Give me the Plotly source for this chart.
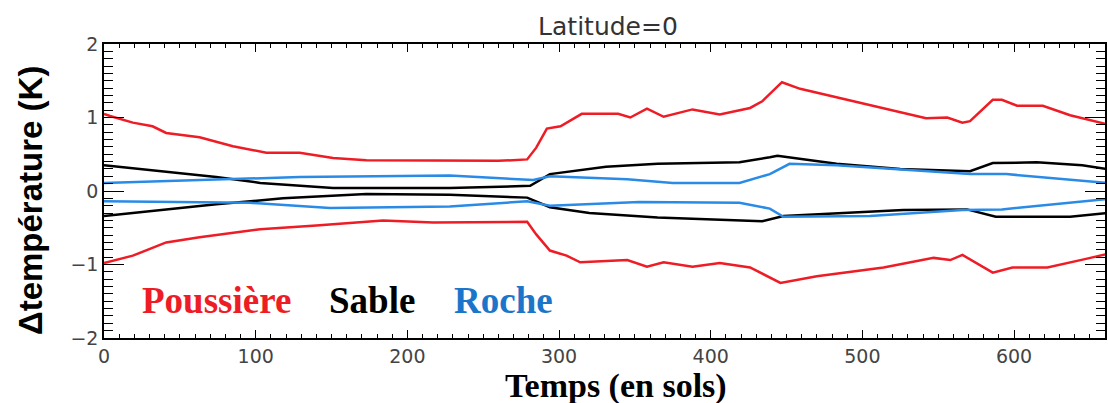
import plotly.graph_objects as go

# ---- data ----
poussiere_hi_x = [0, 4, 19, 32, 41, 63, 85, 107, 129, 151, 173, 217, 260, 279, 285, 292, 301, 315, 339, 347, 358, 369, 388, 406, 426, 434, 447, 459, 490, 514, 542, 556, 566, 571, 586, 592, 602, 619, 637, 661]
poussiere_hi_y = [1.05, 1.02, 0.93, 0.88, 0.79, 0.73, 0.61, 0.52, 0.52, 0.45, 0.42, 0.42, 0.41, 0.43, 0.59, 0.85, 0.88, 1.05, 1.05, 1.0, 1.12, 1.01, 1.11, 1.04, 1.13, 1.22, 1.48, 1.39, 1.24, 1.13, 0.99, 1.0, 0.93, 0.95, 1.24, 1.24, 1.16, 1.16, 1.03, 0.91]

poussiere_lo_x = [0, 19, 41, 63, 103, 140, 184, 217, 279, 285, 294, 305, 314, 345, 358, 369, 388, 406, 426, 434, 446, 470, 514, 547, 558, 566, 586, 599, 622, 646, 661]
poussiere_lo_y = [-0.98, -0.88, -0.70, -0.63, -0.52, -0.47, -0.40, -0.43, -0.42, -0.59, -0.81, -0.88, -0.97, -0.94, -1.03, -0.97, -1.03, -0.98, -1.04, -1.12, -1.25, -1.16, -1.04, -0.91, -0.94, -0.87, -1.11, -1.04, -1.04, -0.93, -0.86]

sable_hi_x = [0, 74, 103, 151, 228, 281, 294, 331, 365, 419, 439, 444, 483, 525, 571, 586, 615, 645, 661]
sable_hi_y = [0.35, 0.19, 0.11, 0.04, 0.04, 0.07, 0.23, 0.33, 0.37, 0.39, 0.46, 0.48, 0.37, 0.30, 0.27, 0.38, 0.39, 0.35, 0.30]

sable_lo_x = [0, 74, 118, 173, 228, 279, 294, 320, 365, 434, 448, 527, 569, 588, 637, 661]
sable_lo_y = [-0.34, -0.18, -0.10, -0.04, -0.05, -0.09, -0.22, -0.30, -0.36, -0.41, -0.34, -0.26, -0.25, -0.35, -0.35, -0.30]

roche_hi_x = [0, 52, 129, 228, 283, 294, 345, 375, 419, 439, 452, 483, 571, 595, 661]
roche_hi_y = [0.11, 0.14, 0.19, 0.21, 0.15, 0.20, 0.16, 0.11, 0.11, 0.23, 0.37, 0.35, 0.23, 0.23, 0.11]

roche_lo_x = [0, 50, 96, 149, 228, 279, 294, 353, 419, 439, 448, 505, 566, 592, 661]
roche_lo_y = [-0.14, -0.15, -0.16, -0.23, -0.21, -0.14, -0.20, -0.15, -0.16, -0.24, -0.35, -0.34, -0.26, -0.25, -0.11]

series_names = ["Poussière", "Sable", "Roche"]
line_colors = ["#ee1c25", "#000000", "#2a8be6"]
label_colors = ["#ee1c25", "#000000", "#1b75c9"]

x_tickvals = [0, 100, 200, 300, 400, 500, 600]
y_tickvals = [-2, -1, 0, 1, 2]

fig = go.Figure()
curves = [
    (poussiere_hi_x, poussiere_hi_y, 0), (poussiere_lo_x, poussiere_lo_y, 0),
    (sable_hi_x, sable_hi_y, 1), (sable_lo_x, sable_lo_y, 1),
    (roche_hi_x, roche_hi_y, 2), (roche_lo_x, roche_lo_y, 2),
]
for xs, ys, k in curves:
    fig.add_trace(go.Scatter(x=xs, y=ys, mode="lines", name=series_names[k],
                             line=dict(color=line_colors[k], width=2.5),
                             showlegend=False))

# text legend
legend_x = [0.036, 0.223, 0.348]
for name, col, lx in zip(series_names, label_colors, legend_x):
    fig.add_annotation(text=f"<b>{name}</b>", x=lx, y=0.129, xref="paper", yref="paper",
                       xanchor="left", yanchor="middle", showarrow=False,
                       font=dict(family="Liberation Serif", size=37, color=col))

# axis titles as annotations
fig.add_annotation(text="<b>Temps (en sols)</b>", x=0.511, y=-0.162, xref="paper", yref="paper",
                   xanchor="center", yanchor="middle", showarrow=False,
                   font=dict(family="Liberation Serif", size=34, color="black"))
fig.add_annotation(text="<b>Δtempérature (K)</b>", x=-0.074, y=0.469, xref="paper", yref="paper",
                   xanchor="center", yanchor="middle", showarrow=False, textangle=-90,
                   font=dict(family="Liberation Sans", size=33, color="black"))

tickfont = dict(family="DejaVu Sans", size=19, color="#444444")
fig.update_layout(
    width=1108, height=403,
    margin=dict(l=104, r=3, t=44, b=65, autoexpand=False),
    paper_bgcolor="white", plot_bgcolor="white",
    title=dict(text="Latitude=0", x=0.5487, xanchor="center", y=0.935, yanchor="middle",
               font=dict(family="DejaVu Sans", size=25, color="#333333")),
    xaxis=dict(range=[0, 660], tickvals=x_tickvals, ticks="inside", ticklen=8, tickwidth=1.2,
               tickcolor="black", showline=True, linecolor="black", linewidth=1.5,
               mirror="allticks", showgrid=False, zeroline=False, tickfont=tickfont,
               automargin=False,
               minor=dict(dtick=10, ticks="inside", ticklen=4, tickcolor="black", showgrid=False)),
    yaxis=dict(range=[-2, 2], tickvals=y_tickvals, ticks="inside", ticklen=20, tickwidth=1.2,
               tickcolor="black", showline=True, linecolor="black", linewidth=1.5,
               mirror="allticks", showgrid=False, zeroline=False, tickfont=tickfont,
               automargin=False,
               minor=dict(dtick=0.1, ticks="inside", ticklen=9, tickcolor="black", showgrid=False)),
)

fig.write_html("out.html", config={"displayModeBar": False},
               post_script="document.body.style.margin='0';")
